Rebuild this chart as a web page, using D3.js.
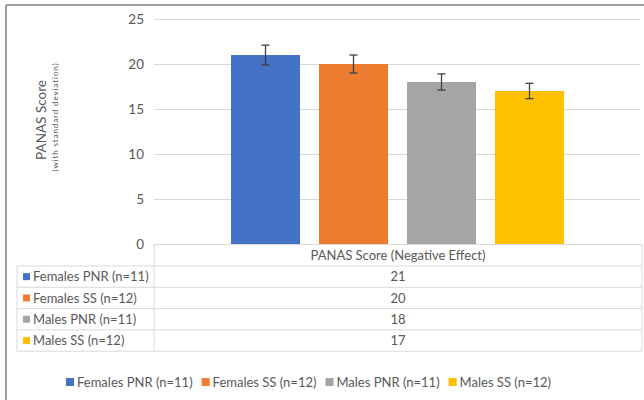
<!DOCTYPE html>
<html><head><meta charset="utf-8">
<script src="https://cdn.jsdelivr.net/npm/d3@7"></script>
<style>body{margin:0;background:#fff}svg{display:block}text{font-family:Lato,"Open Sans",sans-serif;fill:#595959}</style>
</head><body><svg id="c" width="644" height="400"></svg>
<script>
const categories = ["PANAS Score (Negative Effect)"];
const seriesNames = ["Females PNR (n=11)", "Females SS (n=12)", "Males PNR (n=11)", "Males SS (n=12)"];
const seriesValues = [21, 20, 18, 17];
const seriesSD = [1.1, 1.0, 0.9, 0.85];
const seriesColors = ["#4472c4", "#ed7d31", "#a5a5a5", "#ffc000"];
const yTicks = [0, 5, 10, 15, 20, 25];

const svg = d3.select("#c");
// frame
svg.append("line").attr("x1",6).attr("x2",644).attr("y1",5).attr("y2",5).attr("stroke","#7f7f7f").attr("stroke-width",1.5);
svg.append("line").attr("x1",6).attr("x2",6).attr("y1",5).attr("y2",400).attr("stroke","#7f7f7f").attr("stroke-width",1.5);

const y = d3.scaleLinear().domain([0,25]).range([244,19]);
const x0 = d3.scaleBand().domain(categories).range([154,642]).padding(0);
const x1 = d3.scaleBand().domain(seriesNames).range([231,564]).paddingInner(0.216).paddingOuter(0);

// gridlines
svg.append("g").selectAll("line").data(yTicks.filter(d=>d>0)).join("line")
  .attr("x1",154).attr("x2",640).attr("y1",d=>Math.round(y(d))+0.5).attr("y2",d=>Math.round(y(d))+0.5)
  .attr("stroke","#d9d9d9").attr("stroke-width",1);

// y axis labels
const yAxis = d3.axisLeft(y).tickValues(yTicks).tickSize(0).tickPadding(0);
const ga = svg.append("g").attr("transform","translate(144,0)").call(yAxis);
ga.select(".domain").remove();
ga.selectAll("text").style("font-size","13.5px").attr("fill","#595959").style("font-family","Lato,sans-serif");

// axis title
svg.append("text").attr("transform","translate(46,120) rotate(-90)").attr("text-anchor","middle")
  .style("font-size","13.5px").text("PANAS Score");
svg.append("text").attr("transform","translate(58,117) rotate(-90)").attr("text-anchor","middle")
  .style("font-size","8px").style("letter-spacing","0.9px").text("(with standard deviation)");

// bars
const g = svg.append("g").attr("transform",`translate(${x0(categories[0])-154},0)`);
const data = seriesNames.map((n,i)=>({n, v:seriesValues[i], sd:seriesSD[i], c:seriesColors[i]}));
g.selectAll("rect").data(data).join("rect")
  .attr("x",d=>x1(d.n)).attr("width",x1.bandwidth())
  .attr("y",d=>y(d.v)).attr("height",d=>y(0)-y(d.v)).attr("fill",d=>d.c);

// error bars
const eb = g.selectAll("g.eb").data(data).join("g").attr("class","eb");
eb.append("line").attr("x1",d=>x1(d.n)+x1.bandwidth()/2).attr("x2",d=>x1(d.n)+x1.bandwidth()/2)
  .attr("y1",d=>y(d.v+d.sd)).attr("y2",d=>y(d.v-d.sd)).attr("stroke","#404040").attr("stroke-width",1.3);
[1,-1].forEach(s=>{
  eb.append("line").attr("x1",d=>x1(d.n)+x1.bandwidth()/2-4).attr("x2",d=>x1(d.n)+x1.bandwidth()/2+4)
    .attr("y1",d=>y(d.v+s*d.sd)).attr("y2",d=>y(d.v+s*d.sd)).attr("stroke","#404040").attr("stroke-width",1.3);
});

// data table
const tLeft=17, tDiv=154, tRight=642, tTop=244.5, hdrH=21.5, rowH=21.3;
const lc="#d9d9d9";
const rowsTop = tTop+hdrH;
const tBottom = rowsTop + rowH*seriesNames.length;
const tl = svg.append("g").attr("stroke",lc).attr("stroke-width",1);
tl.append("line").attr("x1",tDiv).attr("x2",tRight).attr("y1",tTop).attr("y2",tTop);
for(let i=0;i<=seriesNames.length;i++){
  const yy = rowsTop+rowH*i;
  tl.append("line").attr("x1",tLeft).attr("x2",tRight).attr("y1",yy).attr("y2",yy);
}
tl.append("line").attr("x1",tLeft).attr("x2",tLeft).attr("y1",rowsTop).attr("y2",tBottom);
tl.append("line").attr("x1",tDiv).attr("x2",tDiv).attr("y1",tTop).attr("y2",tBottom);
tl.append("line").attr("x1",tRight).attr("x2",tRight).attr("y1",tTop).attr("y2",tBottom);

const colC = x0(categories[0]) + x0.bandwidth()/2;
svg.append("text").attr("x",colC).attr("y",tTop+hdrH/2).attr("dy","0.35em").attr("text-anchor","middle")
  .style("font-size","13px").text(categories[0]);
data.forEach((d,i)=>{
  const cy = rowsTop+rowH*i+rowH/2;
  svg.append("rect").attr("x",23).attr("y",cy-3.5).attr("width",7).attr("height",7).attr("fill",d.c);
  svg.append("text").attr("x",33).attr("y",cy).attr("dy","0.35em").style("font-size","13px").text(d.n);
  svg.append("text").attr("x",colC).attr("y",cy).attr("dy","0.35em").attr("text-anchor","middle").style("font-size","13px").text(d.v);
});

// legend (centered)
const leg = svg.append("g");
const ly = 382;
let lx = 0;
data.forEach(d=>{
  leg.append("rect").attr("x",lx).attr("y",ly-4).attr("width",8).attr("height",8).attr("fill",d.c);
  const t = leg.append("text").attr("x",lx+11).attr("y",ly).attr("dy","0.35em").style("font-size","13px").text(d.n);
  lx += 11 + t.node().getComputedTextLength() + 9;
});
const total = lx - 9;
leg.attr("transform",`translate(${308.5 - total/2},0)`);
</script></body></html>
